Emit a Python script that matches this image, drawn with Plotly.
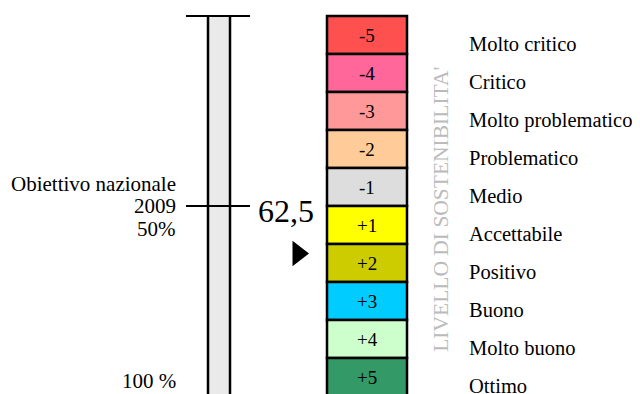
import plotly.graph_objects as go

# ---- data ----
levels = ["-5", "-4", "-3", "-2", "-1", "+1", "+2", "+3", "+4", "+5"]
level_names = ["Molto critico", "Critico", "Molto problematico", "Problematico", "Medio",
               "Accettabile", "Positivo", "Buono", "Molto buono", "Ottimo"]
level_colors = ["#FF5050", "#FF6699", "#FF9999", "#FFCC99", "#DDDDDD",
                "#FFFF00", "#CCCC00", "#00CCFF", "#CCFFCC", "#339966"]
value = 62.5          # current value (percent)
value_label = "62,5"
target = 50           # national target 2009 (percent)
scale_max = 100
axis_title = "LIVELLO DI SOSTENIBILITA'"

FONT = "Liberation Serif, Times New Roman, serif"

fig = go.Figure()
shapes = []
annotations = []

# layout positions (horizontal, in layout units matching page pixels)
TH_X0, TH_X1 = 208, 230       # thermometer tube
TICK_X0, TICK_X1 = 186, 250   # ticks
BOX_X0, BOX_X1 = 327, 407     # level boxes
LABEL_X = 467

# thermometer tube
shapes.append(dict(type="rect", xref="x", yref="y", x0=TH_X0, x1=TH_X1, y0=0, y1=scale_max + 5,
                   fillcolor="#EAEAEA", line=dict(width=0), layer="below"))
for xx in (TH_X0, TH_X1):
    shapes.append(dict(type="line", xref="x", yref="y", x0=xx, x1=xx, y0=0, y1=scale_max + 5,
                       line=dict(color="black", width=2.5)))
# top line (0%) and target tick
for yy in (0, target):
    shapes.append(dict(type="line", xref="x", yref="y", x0=TICK_X0, x1=TICK_X1, y0=yy, y1=yy,
                       line=dict(color="black", width=2)))

# level boxes
step = scale_max / len(levels)
for i, (lv, nm, col) in enumerate(zip(levels, level_names, level_colors)):
    y0 = i * step
    y1 = (i + 1) * step
    shapes.append(dict(type="rect", xref="x", yref="y", x0=BOX_X0, x1=BOX_X1, y0=y0, y1=y1,
                       fillcolor=col, line=dict(color="black", width=2.5)))
    annotations.append(dict(x=(BOX_X0 + BOX_X1) / 2, y=(y0 + y1) / 2, xref="x", yref="y",
                            text=lv, showarrow=False, font=dict(size=19, color="black", family=FONT),
                            xanchor="center", yanchor="middle"))
    annotations.append(dict(x=LABEL_X, y=(y0 + y1) / 2, xref="x", yref="y", yshift=-9,
                            text=nm, showarrow=False, font=dict(size=20.5, color="black", family=FONT),
                            xanchor="left", yanchor="middle"))

# vertical axis title
annotations.append(dict(x=441, y=scale_max / 2 + 1, xref="x", yref="y", text=axis_title,
                        textangle=-90, showarrow=False,
                        font=dict(size=21.5, color="#BBBBBB", family=FONT),
                        xanchor="center", yanchor="middle"))

# left labels
annotations.append(dict(x=178, y=target, xref="x", yref="y", yshift=22, text="Obiettivo nazionale",
                        showarrow=False, font=dict(size=21, color="black", family=FONT),
                        xanchor="right", yanchor="middle"))
annotations.append(dict(x=178, y=target, xref="x", yref="y", text="2009",
                        showarrow=False, font=dict(size=21, color="black", family=FONT),
                        xanchor="right", yanchor="middle"))
annotations.append(dict(x=178, y=target, xref="x", yref="y", yshift=-23, text=f"{target}%",
                        showarrow=False, font=dict(size=21, color="black", family=FONT),
                        xanchor="right", yanchor="middle"))
annotations.append(dict(x=178, y=scale_max, xref="x", yref="y", yshift=15, text=f"{scale_max} %",
                        showarrow=False, font=dict(size=21, color="black", family=FONT),
                        xanchor="right", yanchor="middle"))

# value marker
fig.add_trace(go.Scatter(x=[298], y=[value], mode="markers",
                         marker=dict(symbol="triangle-right", size=22, color="black"),
                         hoverinfo="skip", showlegend=False))
annotations.append(dict(x=286, y=value, xref="x", yref="y", yshift=43, text=value_label,
                        showarrow=False, font=dict(size=32, color="black", family=FONT),
                        xanchor="center", yanchor="middle"))

# page has an 8px body margin: the figure's pixel 0 sits at page pixel 8
PX_PER_PCT = 3.8
fig.update_layout(
    width=640, height=394,
    margin=dict(l=0, r=0, t=0, b=0),
    paper_bgcolor="white", plot_bgcolor="white",
    shapes=shapes, annotations=annotations,
    xaxis=dict(range=[8, 648], visible=False, fixedrange=True),
    yaxis=dict(range=[(402 - 16) / PX_PER_PCT, (8 - 16) / PX_PER_PCT], visible=False, fixedrange=True),
    showlegend=False,
)

fig.write_html("out.html")
